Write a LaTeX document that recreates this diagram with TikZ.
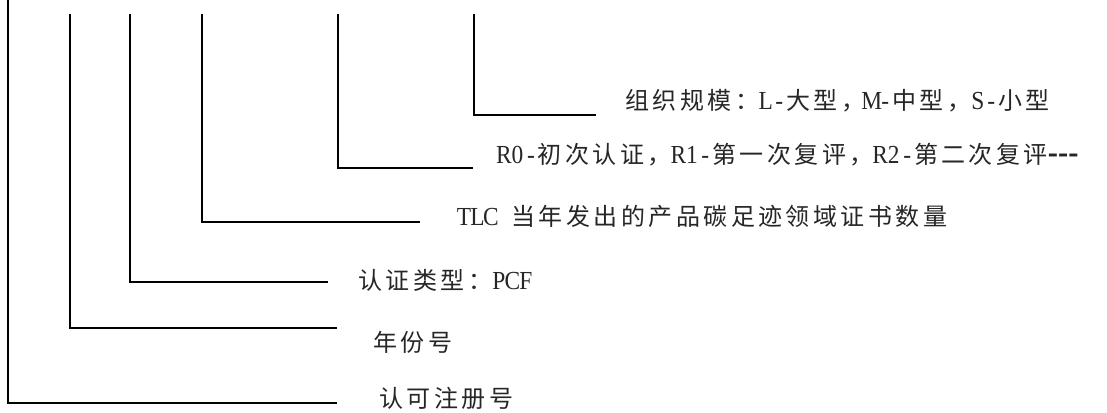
\documentclass[tikz,border=0pt]{standalone}
\usepackage{fontspec}
\newfontfamily\cjk[LetterSpace=14.5]{Noto Sans CJK SC}
\newfontfamily\latfont[FakeStretch=0.9]{Liberation Serif}
% one half-width Latin cell
\newcommand\hw[1]{\makebox[13.5pt]{\latfont\fontsize{26}{26}\selectfont #1}}
\newcommand\dashes{{\latfont\bfseries\fontsize{34}{34}\selectfont -{}-{}-}}
\begin{document}
\begin{tikzpicture}[x=1pt,y=-1pt,
  lead/.style={line width=1.8pt,black},
  label/.style={anchor=west,inner sep=0pt,text=black!85,font=\cjk\fontsize{24}{24}\selectfont}]
\useasboundingbox (0,0) rectangle (1107,412);
% free ends and corners
\coordinate (t1) at (8,0);    \coordinate (e1) at (337,403);
\coordinate (t2) at (70,14);  \coordinate (e2) at (337,328);
\coordinate (t3) at (130,14); \coordinate (e3) at (328,282);
\coordinate (t4) at (202,14); \coordinate (e4) at (420,222);
\coordinate (t5) at (338,14); \coordinate (e5) at (473,168);
\coordinate (t6) at (474,14); \coordinate (e6) at (596,115);
% labels
\node[label] (n6) at (625,101) {组织规模：\hw{L}\hw{-}大型，\hw{M}\hw{-}中型，\hw{S}\hw{-}小型};
\node[label] (n5) at (497,155) {\hw{R}\hw{0}\hw{-}初次认证，\hw{R}\hw{1}\hw{-}第一次复评，\hw{R}\hw{2}\hw{-}第二次复评\dashes};
\node[label] (n4) at (457,216) {\hw{T}\hw{L}\hw{C}\hw{ }当年发出的产品碳足迹领域证书数量};
\node[label] (n3) at (358,280) {认证类型：\hw{P}\hw{C}\hw{F}};
\node[label] (n2) at (373,342) {年份号};
\node[label] (n1) at (379,398) {认可注册号};
% leaders
\draw[lead] (t1) |- (e1);
\draw[lead] (t2) |- (e2);
\draw[lead] (t3) |- (e3);
\draw[lead] (t4) |- (e4);
\draw[lead] (t5) |- (e5);
\draw[lead] (t6) |- (e6);
\end{tikzpicture}
\end{document}
